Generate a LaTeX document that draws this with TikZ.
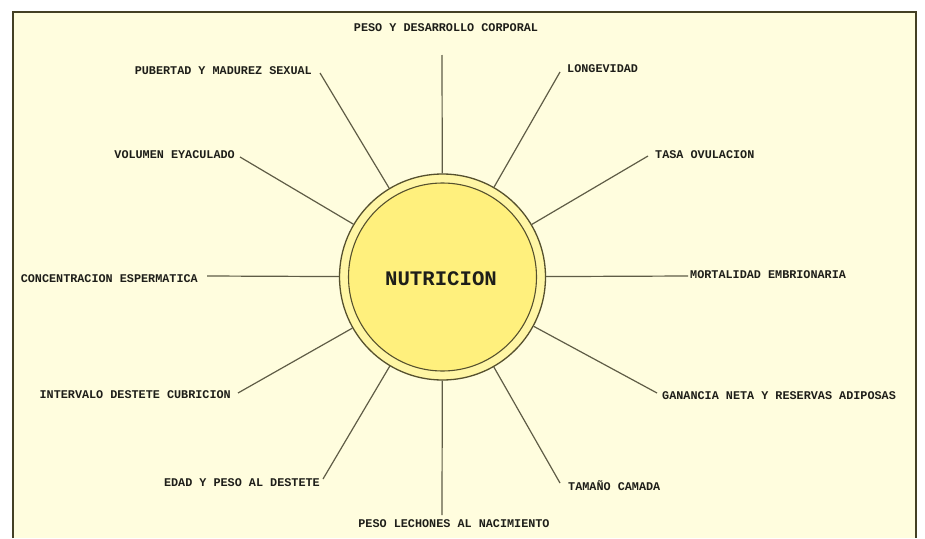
\documentclass[tikz,border=0pt]{standalone}
\usepackage{fontspec}
\setmonofont{Liberation Mono}
\definecolor{paper}{RGB}{255,253,222}
\definecolor{ring}{RGB}{255,246,165}
\definecolor{core}{RGB}{255,240,125}
\definecolor{rim}{RGB}{85,80,45}
\definecolor{spoke}{RGB}{95,92,70}
\definecolor{ink}{RGB}{30,30,25}
\begin{document}
\begin{tikzpicture}[x=1pt,y=-1pt,
  lbl/.style={inner sep=0pt,text=ink,font=\ttfamily\bfseries\fontsize{11.8}{12}\selectfont},
  spokeline/.style={draw=spoke,line width=1.2pt},
  hub/.style={circle,minimum size=206pt,inner sep=0pt,draw=rim,line width=1.3pt,fill=ring}]
\useasboundingbox (0,0) rectangle (925,538);
\fill[white] (0,0) rectangle (925,538);
\fill[paper] (13,12) rectangle (916,538);
\draw[rim!80!black,line width=1.3pt] (13,538) -- (13,12) -- (916,12) -- (916,538);
% hub
\node[hub] (nut) at (442.5,277) {};
\node[circle,minimum size=188pt,inner sep=0pt,draw=rim,line width=1.1pt,fill=core] (nutin) at (442.5,277) {};
\node[inner sep=0pt,text=ink,font=\ttfamily\bfseries\fontsize{20.7}{22}\selectfont] (nuttxt) at (441,279) {NUTRICION};
% free ends of spokes
\coordinate (e1) at (442,55);
\coordinate (e2) at (560,72);
\coordinate (e3) at (648,156);
\coordinate (e4) at (688,276);
\coordinate (e5) at (657,393);
\coordinate (e6) at (560,483);
\coordinate (e7) at (442,515);
\coordinate (e8) at (323,479);
\coordinate (e9) at (238,393);
\coordinate (e10) at (207,276);
\coordinate (e11) at (240,157);
\coordinate (e12) at (320,73);
% labels
\node[lbl,anchor=center] (l1) at (446,28) {PESO Y DESARROLLO CORPORAL};
\node[lbl,anchor=west] (l2) at (567,69) {LONGEVIDAD};
\node[lbl,anchor=west] (l3) at (655,155) {TASA OVULACION};
\node[lbl,anchor=west] (l4) at (690,275) {MORTALIDAD EMBRIONARIA};
\node[lbl,anchor=west] (l5) at (662,396) {GANANCIA NETA Y RESERVAS ADIPOSAS};
\node[lbl,anchor=west] (l6) at (568,486) {TAMAÑO CAMADA};
\node[lbl,anchor=center] (l7) at (454,524) {PESO LECHONES AL NACIMIENTO};
\node[lbl,anchor=east] (l8) at (320,483) {EDAD Y PESO AL DESTETE};
\node[lbl,anchor=east] (l9) at (231,395) {INTERVALO DESTETE CUBRICION};
\node[lbl,anchor=east] (l10) at (198,279) {CONCENTRACION ESPERMATICA};
\node[lbl,anchor=east] (l11) at (235,155) {VOLUMEN EYACULADO};
\node[lbl,anchor=east] (l12) at (312,71) {PUBERTAD Y MADUREZ SEXUAL};
% spokes
\foreach \i in {1,...,12} {\draw[spokeline] (nut) -- (e\i);}
\end{tikzpicture}
\end{document}
